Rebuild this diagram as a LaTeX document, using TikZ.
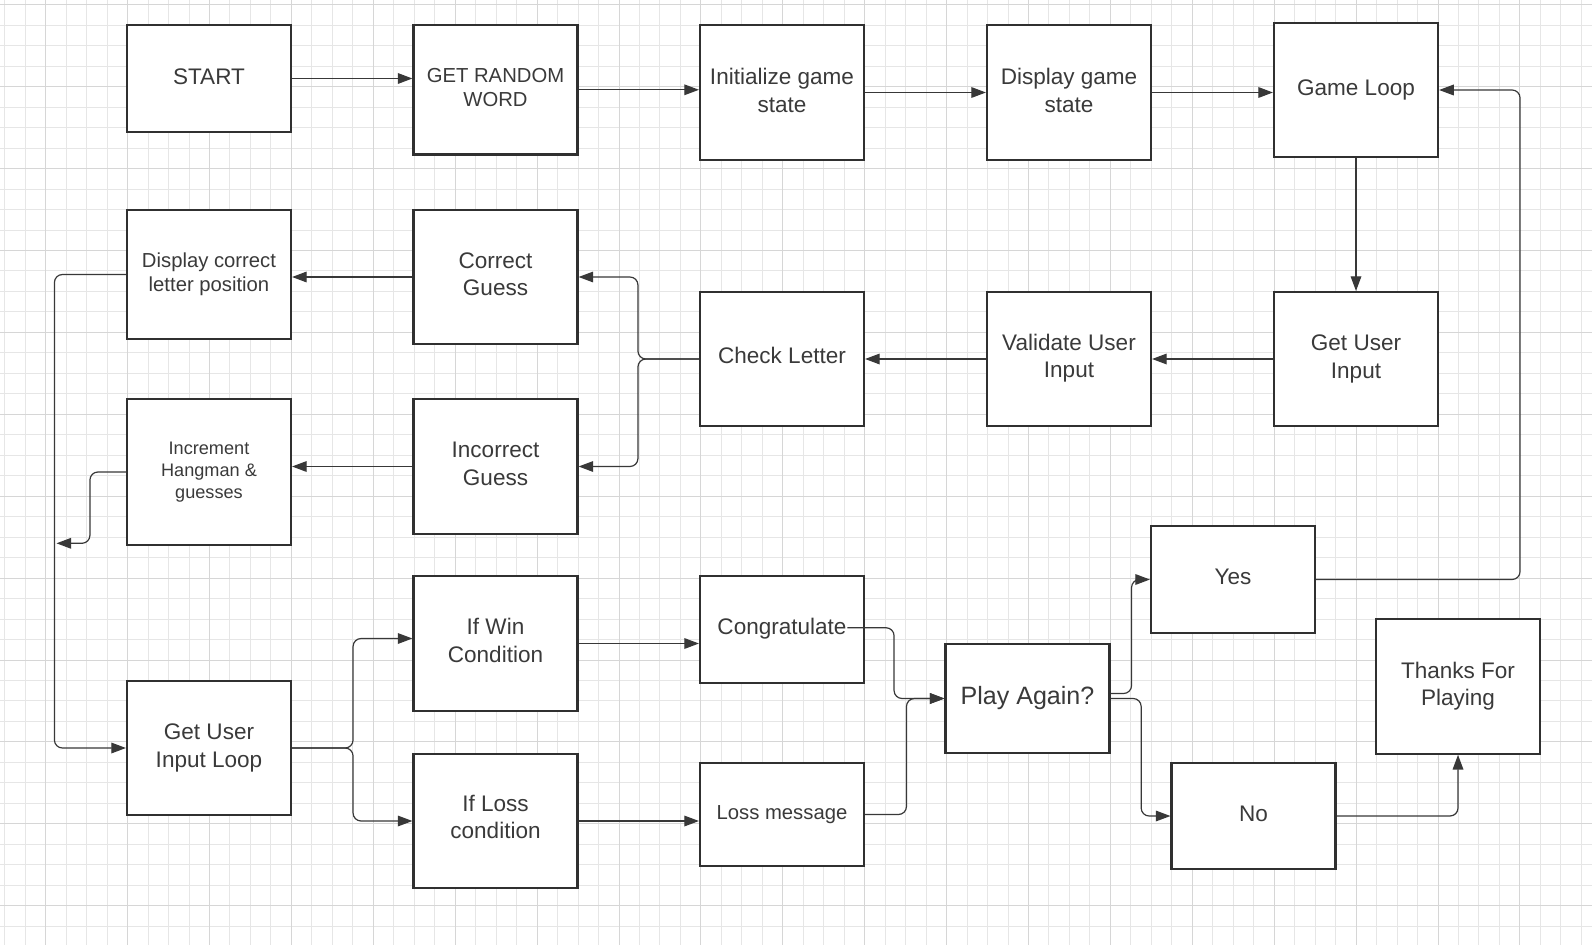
\documentclass[tikz,border=0pt]{standalone}
\usepackage{fontspec}
\setmainfont{Liberation Sans}
\usetikzlibrary{arrows.meta}
\definecolor{minorg}{HTML}{E6E6E6}
\definecolor{majorg}{HTML}{D6D6D6}
\definecolor{boxc}{HTML}{303030}
\definecolor{linec}{HTML}{383838}
\definecolor{txtc}{HTML}{3A3A3A}
\begin{document}
\begin{tikzpicture}[x=0.75pt,y=-0.75pt,
  box/.style={draw=boxc, line width=1.6pt, fill=white, minimum width=123pt, inner sep=0pt},
  txt/.style={inner sep=0pt, align=center, text=txtc, font=\fontsize{16.9}{20.5}\selectfont},
  smallfont/.style={font=\fontsize{15.2}{18.2}\selectfont},
  tinyfont/.style={font=\fontsize{13.6}{16.7}\selectfont},
  bigfont/.style={font=\fontsize{18.8}{22}\selectfont},
  conn/.style={draw=linec, line width=0.9pt, rounded corners=6pt,
    -{Triangle[length=11pt,width=8pt]}},
  minorline/.style={draw=minorg, line width=0.75pt},
  majorline/.style={draw=majorg, line width=0.75pt}]
\useasboundingbox (0,0) rectangle (1592,945);
\clip (0,0) rectangle (1592,945);
\fill[white] (0,0) rectangle (1592,945);
% grid
\foreach \i in {-2,...,75} {
  \pgfmathtruncatemacro{\m}{mod(\i+8,4)}
  \ifnum\m=0\relax\else
    \draw[minorline] ({45.7+20.475*\i},0) -- ({45.7+20.475*\i},945);
  \fi}
\foreach \j in {0,...,45} {
  \pgfmathtruncatemacro{\m}{mod(\j,4)}
  \ifnum\m=0\relax\else
    \draw[minorline] (0,{4.8+20.475*\j}) -- (1592,{4.8+20.475*\j});
  \fi}
\foreach \i in {0,...,18} \draw[majorline] ({45.7+81.9*\i},0) -- ({45.7+81.9*\i},945);
\foreach \j in {0,...,11} \draw[majorline] (0,{4.8+81.9*\j}) -- (1592,{4.8+81.9*\j});

% boxes
\node[box, minimum height=80.25pt] (start) at (209,78.5) {};
\node[box, minimum height=97pt] (get) at (495.5,89.8) {};
\node[box, minimum height=101pt] (init) at (782,92.5) {};
\node[box, minimum height=101pt] (disp) at (1069,92.5) {};
\node[box, minimum height=100.5pt] (loop) at (1356,90) {};
\node[box, minimum height=100.5pt] (gui) at (1356,359) {};
\node[box, minimum height=100.5pt] (val) at (1069,359) {};
\node[box, minimum height=100.5pt] (chk) at (782,359) {};
\node[box, minimum height=100.5pt] (cor) at (495.5,277) {};
\node[box, minimum height=101pt] (inc) at (495.5,466.5) {};
\node[box, minimum height=96.75pt] (dcl) at (209,274.5) {};
\node[box, minimum height=109.5pt] (incr) at (209,472) {};
\node[box, minimum height=100.5pt] (guil) at (209,748) {};
\node[box, minimum height=101pt] (win) at (495.5,643.5) {};
\node[box, minimum height=100.5pt] (loss) at (495.5,821) {};
\node[box, minimum height=80.25pt] (cong) at (782,629.5) {};
\node[box, minimum height=77.25pt] (lmsg) at (782,814.5) {};
\node[box, minimum height=81.75pt] (play) at (1027.5,698.5) {};
\node[box, minimum height=80.25pt] (yes) at (1233,579.5) {};
\node[box, minimum height=79.5pt] (no) at (1253.5,816) {};
\node[box, minimum height=101pt] (thanks) at (1458,686.5) {};
\coordinate (merge) at (56.5,543.3);

% texts
\node[txt] (startT) at ([yshift=1.5pt]start.center) {START};
\node[txt, smallfont] (getT) at ([yshift=1.5pt]get.center) {GET RANDOM\\WORD};
\node[txt] (initT) at ([yshift=1.5pt]init.center) {Initialize game\\state};
\node[txt] (dispT) at ([yshift=1.5pt]disp.center) {Display game\\state};
\node[txt] (loopT) at (loop.center) {Game Loop};
\node[txt] (guiT) at (gui.center) {Get User\\Input};
\node[txt] (valT) at ([yshift=0.75pt]val.center) {Validate User\\Input};
\node[txt] (chkT) at ([yshift=3pt]chk.center) {Check Letter};
\node[txt] (corT) at ([yshift=2.25pt]cor.center) {Correct\\Guess};
\node[txt] (incT) at ([yshift=2pt]inc.center) {Incorrect\\Guess};
\node[txt, smallfont] (dclT) at ([yshift=0.4pt]dcl.center) {Display correct\\letter position};
\node[txt, tinyfont] (incrT) at (incr.center) {Increment\\Hangman \&\\guesses};
\node[txt] (guilT) at (guil.center) {Get User\\Input Loop};
\node[txt] (winT) at ([yshift=2.25pt]win.center) {If Win\\Condition};
\node[txt] (lossT) at ([yshift=3pt]loss.center) {If Loss\\condition};
\node[txt] (congT) at ([yshift=0.75pt]cong.center) {Congratulate};
\node[txt, smallfont] (lmsgT) at (lmsg.center) {Loss message};
\node[txt, bigfont] (playT) at (play.center) {Play Again?};
\node[txt] (yesT) at ([yshift=2.25pt]yes.center) {Yes};
\node[txt] (noT) at ([yshift=1.5pt]no.center) {No};
\node[txt] (thanksT) at (thanks.center) {Thanks For\\Playing};

% connectors
\draw[conn] (start.east) -- (start.east -| get.west);
\draw[conn] (get.east) -- (get.east -| init.west);
\draw[conn] (init.east) -- (disp.west);
\draw[conn] (disp.east) -- (disp.east -| loop.west);
\draw[conn] (loop.south) -- (gui.north);
\draw[conn] (gui.west) -- (val.east);
\draw[conn] (val.west) -- (chk.east);
\draw[conn] (chk.west) -- ++(-61,0) |- (cor.east);
\draw[conn] (chk.west) -- ++(-61,0) |- (inc.east);
\draw[conn] (cor.west) -- (cor.west -| dcl.east);
\draw[conn] (inc.west) -- (inc.west -| incr.east);
\draw[conn] (dcl.west) -- ++(-71.5,0) |- (guil.west);
\draw[conn] (incr.west) -- ++(-36,0) |- (merge);
\draw[conn] (guil.east) -- ++(61,0) |- ([yshift=3.75pt]win.west);
\draw[conn] (guil.east) -- ++(61,0) |- (loss.west);
\draw[conn] (win.east) -- (win.east -| cong.west);
\draw[conn] (loss.east) -- (loss.east -| lmsg.west);
\draw[conn] ([xshift=-13.2pt,yshift=1.3pt]cong.east) -- ++(46.6,0) |- (play.west);
\draw[conn] (lmsg.east) -- ++(41.4,0) |- (play.west);
\draw[conn] ([yshift=3.75pt]play.east) -- ++(21,0) |- (yes.west);
\draw[conn] (play.east) -- ++(30.6,0) |- (no.west);
\draw[conn] (yes.east) -- ++(204,0) |- (loop.east);
\draw[conn] (no.east) -| (thanks.south);
\end{tikzpicture}
\end{document}
